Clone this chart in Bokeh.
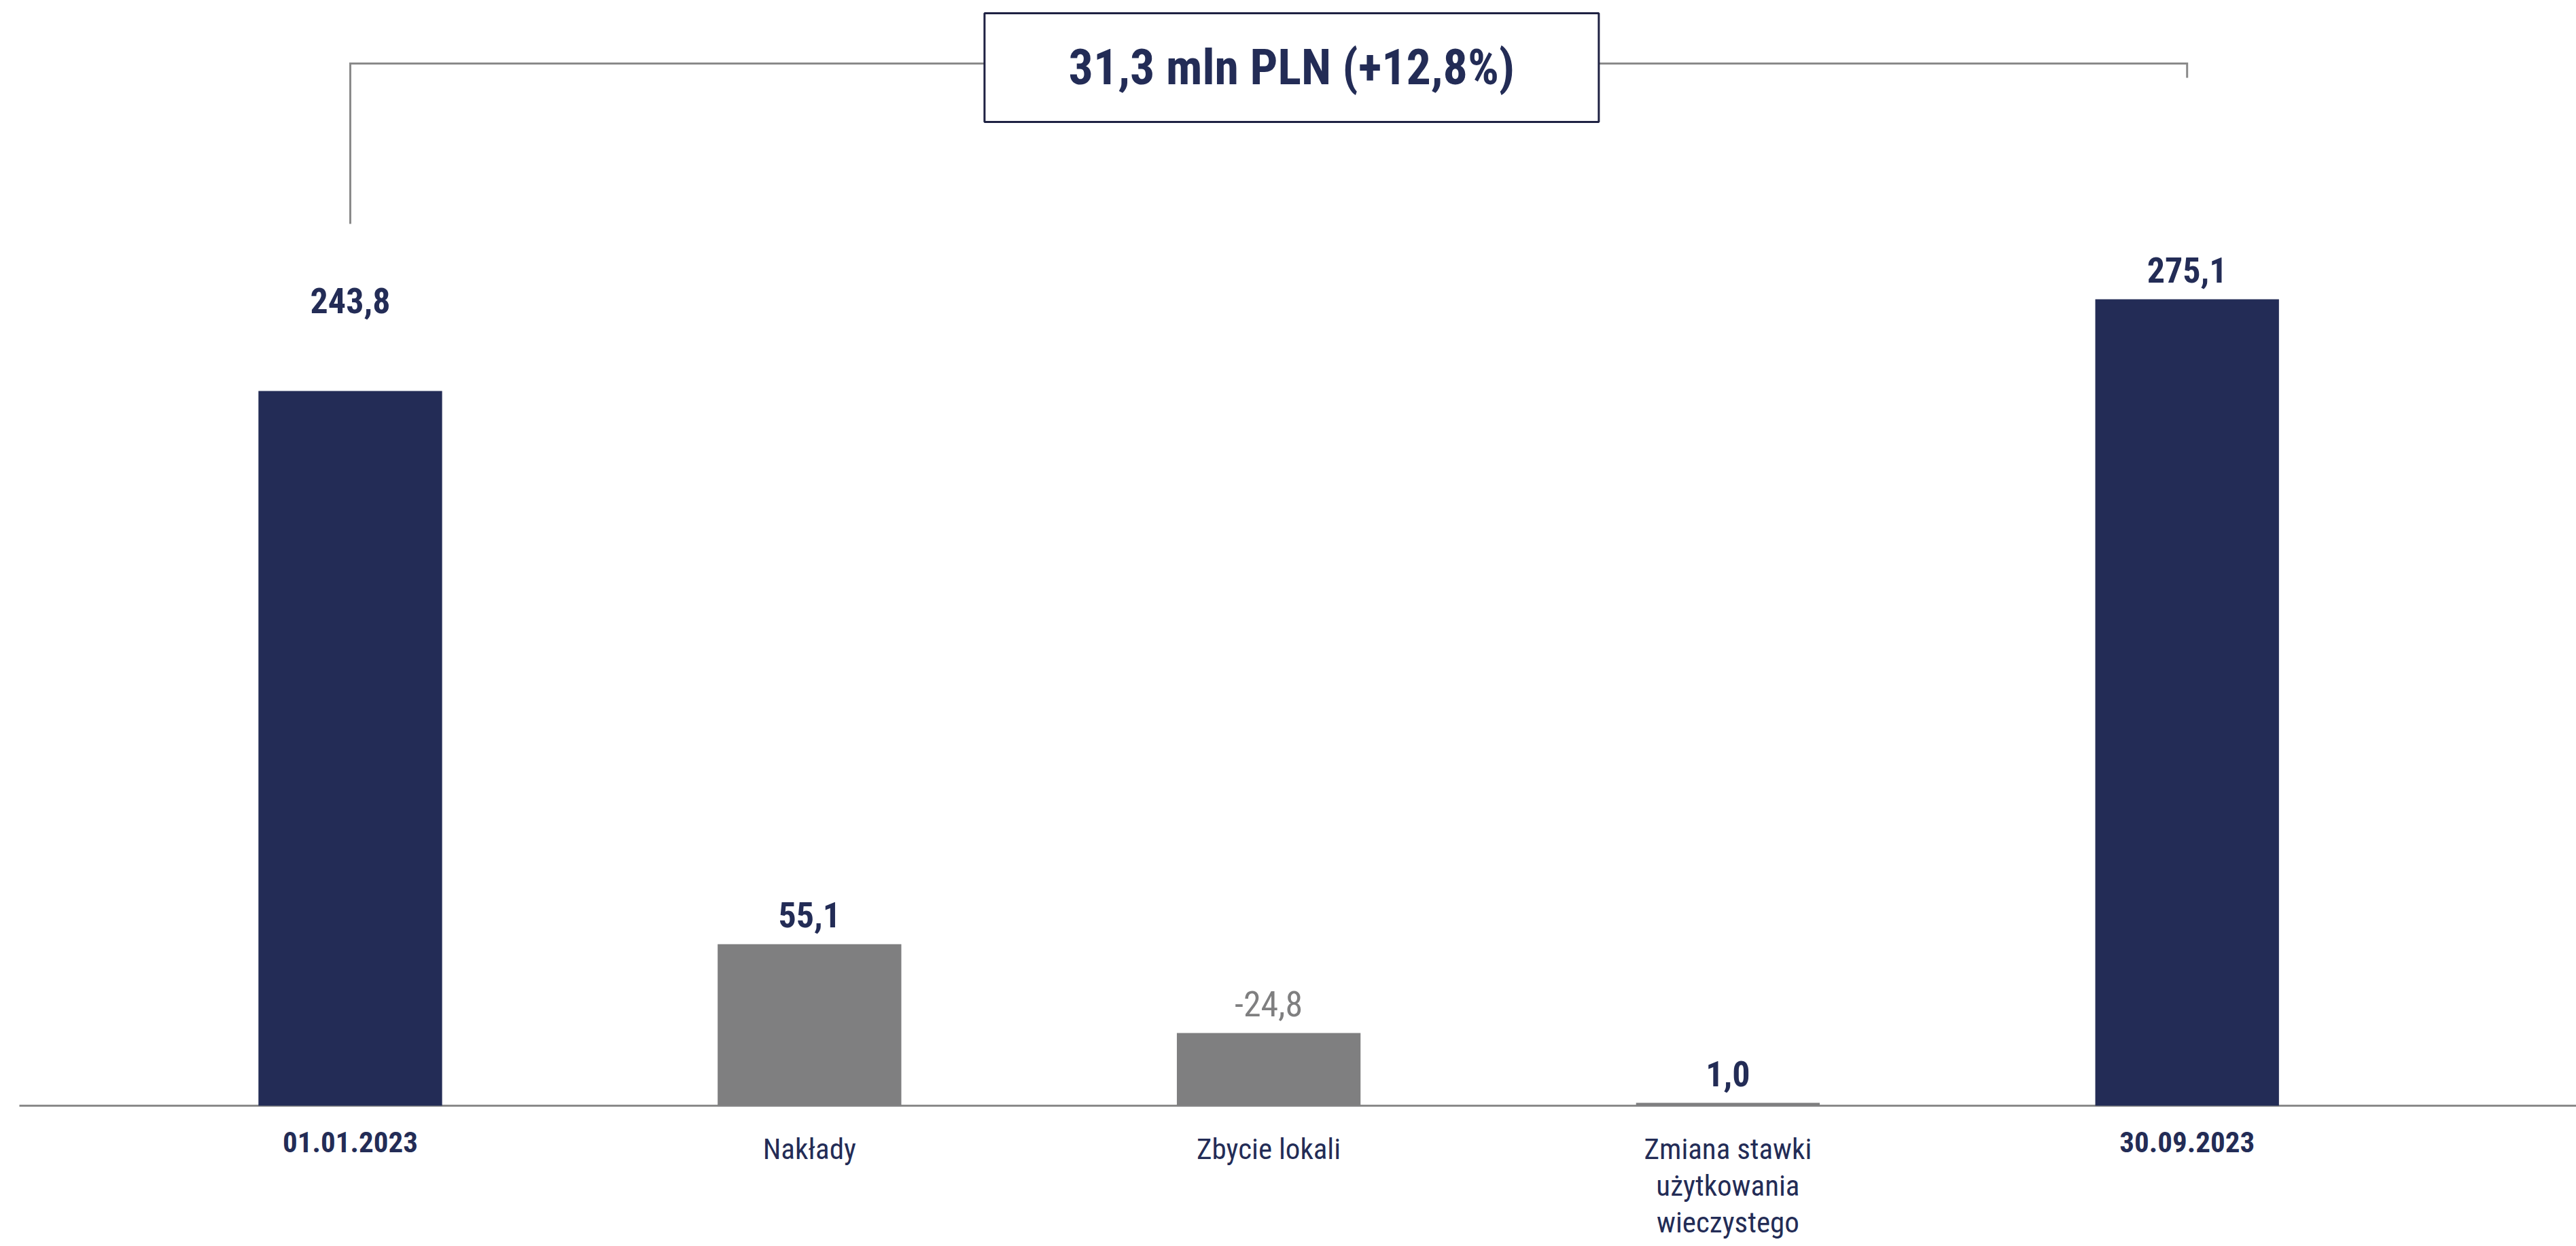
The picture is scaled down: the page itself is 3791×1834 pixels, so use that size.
from bokeh.plotting import figure
from bokeh.models import Range1d, ColumnDataSource
from bokeh.core.properties import value
from bokeh.embed import file_html
from bokeh.resources import INLINE

# --- data -------------------------------------------------------------
categories = [
    "01.01.2023",
    "Nakłady",
    "Zbycie lokali",
    "Zmiana stawki\nużytkowania\nwieczystego",
    "30.09.2023",
]
values = [243.8, 55.1, -24.8, 1.0, 275.1]
value_labels = ["243,8", "55,1", "-24,8", "1,0", "275,1"]
is_total = [True, False, False, False, True]
change_label = "31,3 mln PLN (+12,8%)"

# --- style ------------------------------------------------------------
NAVY = "#232c56"
GRAY = "#7f7f80"
LINE_GRAY = "#8a8a8a"
FONT = "'Roboto Condensed', 'Liberation Sans Narrow', 'DejaVu Sans Condensed', sans-serif"

W, H = 3791, 1834
PX_PER_UNIT = 4.315   # vertical scale, pixels per mln PLN
BASE_PX = 1627        # baseline, pixels from the top
SLOT_PX = 675.8       # distance between neighbouring categories
FIRST_PX = 515        # centre of the first category, pixels from the left

x_start = -FIRST_PX / SLOT_PX
x_end = x_start + W / SLOT_PX
y_end = BASE_PX / PX_PER_UNIT
y_start = -(H - BASE_PX) / PX_PER_UNIT


def y_at(px_from_top):
    return (BASE_PX - px_from_top) / PX_PER_UNIT


idx = list(range(len(categories)))
heights = [abs(v) for v in values]
bar_colors = [NAVY if t else GRAY for t in is_total]
label_colors = [GRAY if v < 0 else NAVY for v in values]
label_styles = ["normal" if v < 0 else "bold" for v in values]
label_gap = [-133 if i == 0 else -43 for i in idx]
cat_styles = ["bold" if t else "normal" for t in is_total]

src = ColumnDataSource(dict(
    x=idx, top=heights, bar_color=bar_colors, label=value_labels,
    label_color=label_colors, label_style=label_styles, gap=label_gap,
    cat=categories, cat_style=cat_styles,
))

p = figure(
    width=W, height=H,
    x_range=Range1d(x_start, x_end), y_range=Range1d(y_start, y_end),
    x_axis_type=None, y_axis_type=None,
    output_backend="svg", toolbar_location=None, min_border=0,
)
p.grid.visible = False
p.outline_line_color = None
p.background_fill_color = "white"
p.border_fill_color = "white"

# baseline
p.segment(x0=[x_start + 28 / SLOT_PX], x1=[x_end], y0=[0], y1=[0],
          line_color=LINE_GRAY, line_width=3)

# bars
p.vbar(x="x", top="top", bottom=0, width=0.40, source=src,
       fill_color="bar_color", line_color=None)

# value labels
p.text(x="x", y="top", text="label", source=src, y_offset="gap",
       text_align="center", text_baseline="middle",
       text_color="label_color", text_font_style="label_style",
       text_font=value(FONT), text_font_size="52px")

# category labels
p.text(x="x", y=0, text="cat", source=src, y_offset=38,
       text_align="center", text_baseline="top",
       text_color=NAVY, text_font_style="cat_style",
       text_font=value(FONT), text_font_size="43px", text_line_height=1.08)

# bracket linking the opening and closing balance
p.line(x=[0, 0, 4, 4], y=[y_at(329), y_at(93), y_at(93), y_at(114)],
       line_color=LINE_GRAY, line_width=3, line_join="miter")

# change box
p.rect(x=[2.05], y=[y_at(99)], width=904, height=160,
       width_units="screen", height_units="screen",
       fill_color="white", line_color="#1e2142", line_width=3)
p.text(x=[2.05], y=[y_at(99)], text=[change_label],
       text_align="center", text_baseline="middle",
       text_color=NAVY, text_font_style="bold",
       text_font=value(FONT), text_font_size="72px")

open("out.html", "w").write(file_html(p, INLINE))
